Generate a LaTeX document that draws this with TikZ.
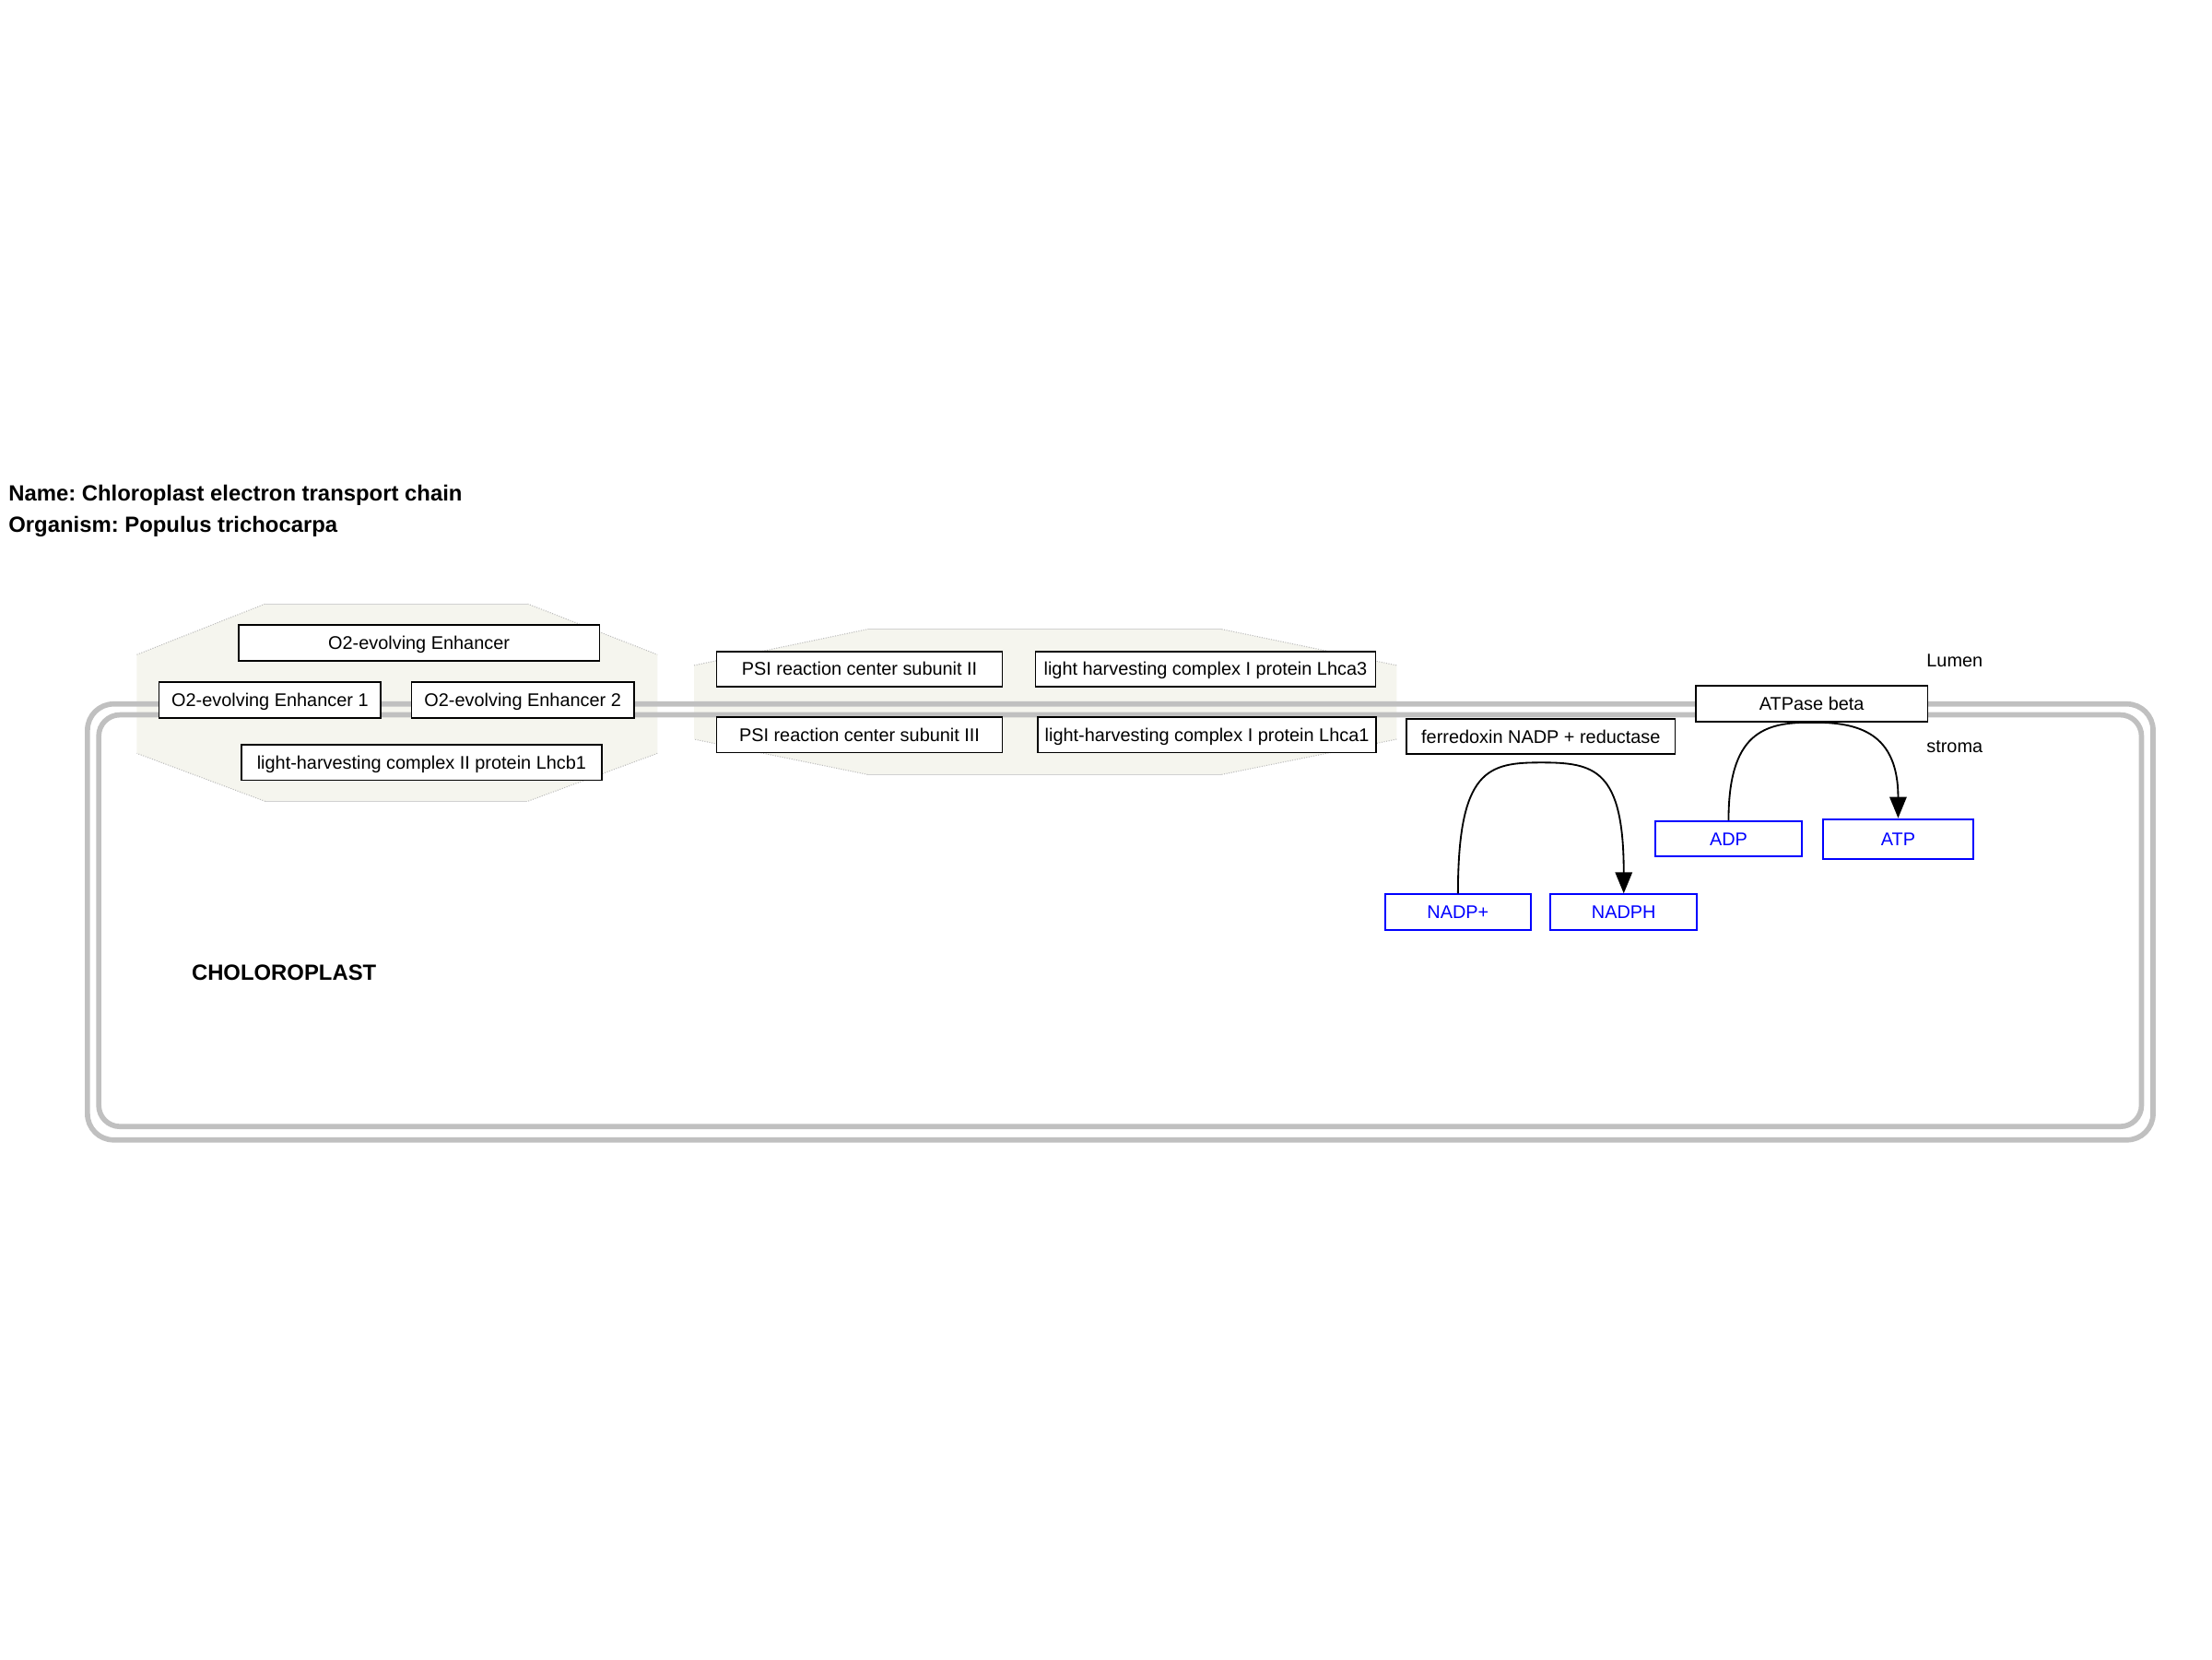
\documentclass[tikz,border=0pt]{standalone}
\usepackage{fontspec}
\setmainfont{Liberation Sans}
\usetikzlibrary{arrows.meta}
\definecolor{memb}{HTML}{C0C0C0}
\definecolor{grp}{HTML}{F5F5EE}
\definecolor{grpline}{HTML}{BDBDBD}
\definecolor{mblue}{HTML}{0000FF}
\frenchspacing
\begin{document}
\begin{tikzpicture}[x=1pt,y=-1pt,
  gene/.style={draw=black, line width=1.1pt, fill=white, inner sep=0pt,
    font=\fontsize{13}{15}\selectfont, text height=9.3pt, text depth=0pt, anchor=center},
  metab/.style={gene, draw=mblue, text=mblue, line width=1.4pt},
  lbl/.style={inner sep=0pt, anchor=west, font=\fontsize{13}{15}\selectfont,
    text height=9.3pt, text depth=0pt},
  blbl/.style={inner sep=0pt, anchor=west, font=\fontsize{15.6}{18}\selectfont\bfseries,
    text height=11.2pt, text depth=0pt},
  membrane/.style={draw=memb, line width=3.7pt},
  grpfill/.style={fill=grp},
  grpedge/.style={draw=grpline, line width=0.7pt, densely dotted},
  grpflat/.style={draw=grpline!70, line width=0.6pt},
  conv/.style={draw=black, line width=1.2pt},
  tip/.style={-{Triangle[length=15pt,width=12pt]}},
]
\useasboundingbox (0,0) rectangle (1568,1176);

% groups (octagons)
\fill[grpfill] (188,428) -- (374,428) -- (466,464) -- (466,534) -- (374,568) -- (188,568) -- (97,534) -- (97,464) -- cycle;
\draw[grpedge] (97,464) -- (188,428) (374,428) -- (466,464) (466,534) -- (374,568) (188,568) -- (97,534);
\draw[grpflat] (188,428) -- (374,428) (188,568) -- (374,568);

\fill[grpfill] (615,446) -- (866,446) -- (990,471.6) -- (990,524) -- (866,549) -- (615,549) -- (492,524) -- (492,471.6) -- cycle;
\draw[grpedge] (492,471.6) -- (615,446) (866,446) -- (990,471.6) (990,524) -- (866,549) (615,549) -- (492,524);
\draw[grpflat] (615,446) -- (866,446) (615,549) -- (866,549);

% membrane
\draw[membrane, rounded corners=18.5pt] (62,499) rectangle (1526.2,808);
\draw[membrane, rounded corners=15pt] (70,506.7) rectangle (1518,798.5);

% gene products
\node[gene, minimum width=256pt, minimum height=25.5pt] (oee) at (297,455.75) {O2-evolving Enhancer};
\node[gene, minimum width=157.3pt, minimum height=25.5pt] (oee1) at (191.35,496.25) {O2-evolving Enhancer 1};
\node[gene, minimum width=157.7pt, minimum height=25.5pt] (oee2) at (370.55,496.25) {O2-evolving Enhancer 2};
\node[gene, minimum width=255.7pt, minimum height=25pt] (lhcb1) at (298.85,540.5) {light-harvesting complex II protein Lhcb1};
\node[gene, minimum width=202.5pt, minimum height=25pt] (psi2) at (609.25,474.2) {PSI reaction center subunit II};
\node[gene, minimum width=241pt, minimum height=25pt] (lhca3) at (854.5,474.2) {light harvesting complex I protein Lhca3};
\node[gene, minimum width=202.5pt, minimum height=25pt] (psi3) at (609.25,521) {PSI reaction center subunit III};
\node[gene, minimum width=240pt, minimum height=25pt] (lhca1) at (855.6,521) {light-harvesting complex I protein Lhca1};
\node[gene, minimum width=190.5pt, minimum height=25pt] (fnr) at (1092.25,522.1) {ferredoxin NADP + reductase};
\node[gene, minimum width=164.5pt, minimum height=25.6pt] (atpase) at (1284.25,498.8) {ATPase beta};

% metabolites
\node[metab, minimum width=103.4pt, minimum height=25pt] (adp) at (1225.3,594.5) {ADP};
\node[metab, minimum width=107pt, minimum height=28.4pt] (atp) at (1345.5,594.8) {ATP};
\node[metab, minimum width=103pt, minimum height=25.4pt] (nadpp) at (1033.5,646.7) {NADP+};
\node[metab, minimum width=104pt, minimum height=25.4pt] (nadph) at (1151,646.7) {NADPH};

% conversions
\coordinate (fnrpeak) at (1092.5,540.5);
\draw[conv, tip] (nadpp.north) .. controls (1033.5,545) and (1055,540.5) .. (fnrpeak)
  .. controls (1130,540.5) and (1151,545) .. (nadph.north);
\draw[conv, tip] (adp.north) .. controls (1225.3,520) and (1250,511.6) .. (atpase.south)
  .. controls (1318,511.6) and (1345.5,520) .. (atp.north);

% labels
\node[blbl] (title1) at (5.9,349.5) {Name: Chloroplast electron transport chain};
\node[blbl] (title2) at (5.9,372) {Organism: Populus trichocarpa};
\node[blbl] (chl) at (135.7,689.5) {CHOLOROPLAST};
\node[lbl] (lumen) at (1365.5,468) {Lumen};
\node[lbl] (stroma) at (1365.5,529) {stroma};
\end{tikzpicture}
\end{document}
